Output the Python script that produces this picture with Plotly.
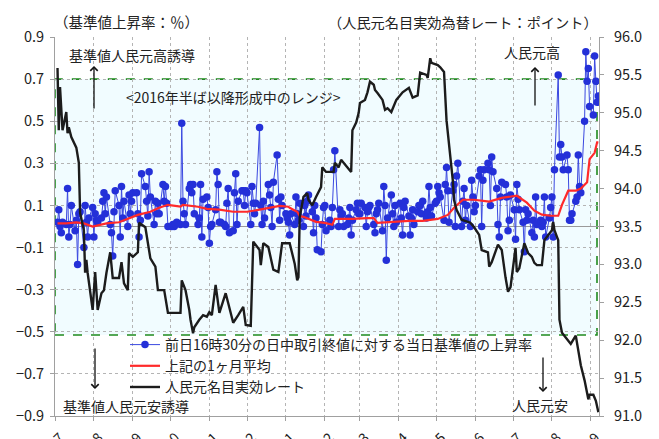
import pandas as pd
import plotly.graph_objects as go

# ---------------- data ----------------
blue_start = "2017-07-03"
blue_values = [
    # 2017-07
    0.02, 0.08, 0.00, -0.03, 0.02, 0.01, 0.18, -0.05, 0.01, 0.10, -0.02, 0.03, -0.18, 0.06, 0.07, -0.10, 0.10, 0.02, -0.05, 0.04, 0.09,
    # 2017-08
    -0.05, 0.06, 0.03, 0.02, 0.04, 0.12, 0.16, 0.06, 0.14, 0.01, -0.03, -0.14, 0.07, 0.17, 0.10, -0.05, 0.19, 0.04, 0.12, 0.00, 0.15, 0.06, 0.12,
    # 2017-09
    0.16, 0.16, 0.06, -0.05, 0.03, 0.25, 0.19, 0.12, 0.05, 0.26, 0.14, 0.01, 0.12, 0.06, 0.11, 0.06, 0.20, 0.12, 0.19, 0.11, 0.00,
    # 2017-10
    0.00, 0.01, 0.00, 0.01, 0.02, 0.01, 0.49, 0.12, 0.06, 0.01, 0.18, 0.20, 0.16, 0.20, 0.06, 0.01, 0.04, 0.20, -0.05, 0.13, 0.14, 0.09,
    # 2017-11
    -0.08, 0.00, 0.01, 0.08, 0.26, 0.20, 0.02, 0.02, 0.01, 0.00, 0.11, 0.18, -0.03, -0.02, 0.16, 0.25, 0.01, 0.12, 0.17, 0.17, 0.10, 0.17,
    # 2017-12
    0.16, 0.01, 0.19, 0.11, 0.06, 0.11, 0.47, 0.10, 0.01, 0.12, 0.04, 0.20, 0.15, 0.09, 0.00, 0.21, 0.34, 0.13, 0.03, 0.14, 0.10,
    # 2018-01
    0.06, 0.04, 0.02, -0.04, 0.06, 0.01, 0.14, 0.06, 0.03, 0.11, 0.00, 0.10, 0.05, 0.12, 0.15, 0.07, -0.03, 0.10, 0.04, -0.11, -0.12, 0.01, 0.09,
    # 2018-02
    0.10, -0.02, 0.03, 0.00, 0.09, 0.27, 0.36, 0.00, 0.08, 0.05, 0.06, 0.00, 0.01, 0.04, 0.09, -0.04, 0.03, 0.08, 0.11, 0.06,
    # 2018-03
    0.06, 0.11, 0.09, 0.00, 0.07, 0.09, 0.10, 0.01, -0.03, 0.06, 0.08, 0.11, -0.02, 0.19, 0.10, -0.16, 0.04, 0.15, 0.06, 0.00, 0.10, 0.02,
    # 2018-04
    0.11, 0.04, -0.04, 0.09, 0.12, 0.05, -0.04, 0.04, 0.08, 0.01, 0.07, 0.10, 0.10, 0.06, 0.12, 0.04, 0.07, 0.19, 0.09, 0.05, 0.11,
    # 2018-05
    0.12, 0.19, 0.16, 0.14, 0.03, 0.20, 0.28, 0.17, 0.02, 0.17, 0.20, 0.00, 0.24, 0.30, 0.00, 0.12, 0.18, 0.03, 0.10, 0.00, 0.22, 0.14, 0.07,
    # 2018-06
    0.10, 0.24, 0.27, 0.00, 0.22, 0.27, 0.30, 0.27, 0.10, 0.33, 0.26, 0.18, 0.01, -0.05, 0.14, 0.21, 0.20, 0.14, -0.02, 0.03, 0.15,
    # 2018-07
    0.08, -0.06, 0.20, 0.13, 0.08, 0.02, -0.12, 0.08, 0.03, 0.06, -0.03, 0.03, -0.05, 0.14, 0.01, 0.03, 0.00, 0.02, 0.14, -0.05, 0.04, 0.09,
    # 2018-08
    0.14, -0.05, 0.27, 0.72, 0.33, 0.39, 0.33, 0.27, 0.34, 0.27, 0.03, 0.03, 0.06, 0.12, 0.14, 0.34, 0.19, 0.16, 0.50, 0.83, 0.69, 0.75, 0.57,
    # 2018-09
    0.53, 0.81, 0.69, 0.59, 0.62,
]

red_dates = [
    "2017-07-03", "2017-07-10", "2017-07-18", "2017-07-24", "2017-07-31", "2017-08-11", "2017-08-21", "2017-08-28",
    "2017-09-05", "2017-09-15", "2017-09-22", "2017-09-29", "2017-10-09", "2017-10-11", "2017-10-23", "2017-10-30",
    "2017-11-09", "2017-11-20", "2017-12-01", "2017-12-11", "2017-12-22", "2017-12-27", "2018-01-03", "2018-01-04",
    "2018-01-10", "2018-01-12", "2018-01-15", "2018-01-25", "2018-02-01", "2018-02-07", "2018-02-09", "2018-02-23",
    "2018-03-07", "2018-03-12", "2018-03-15", "2018-03-26", "2018-04-09", "2018-04-20", "2018-05-02", "2018-05-10",
    "2018-05-15", "2018-05-22", "2018-05-31", "2018-06-12", "2018-06-22", "2018-07-04", "2018-07-12", "2018-07-18",
    "2018-07-24", "2018-07-31", "2018-08-06", "2018-08-09", "2018-08-14", "2018-08-20", "2018-08-24", "2018-08-29",
    "2018-08-31", "2018-09-04", "2018-09-06", "2018-09-07",
]
red_values = [
    0.015, 0.015, 0.020, 0.015, 0.000, 0.015, 0.020, 0.036,
    0.055, 0.070, 0.089, 0.103, 0.094, 0.103, 0.094, 0.084,
    0.080, 0.070, 0.070, 0.080, 0.094, 0.098, 0.094, 0.089,
    0.070, 0.050, 0.046, 0.022, 0.017, 0.008, 0.036, 0.036,
    0.040, 0.040, 0.017, 0.022, 0.027, 0.027, 0.036, 0.055,
    0.089, 0.127, 0.127, 0.118, 0.136, 0.146, 0.113, 0.075,
    0.056, 0.051, 0.051, 0.103, 0.170, 0.170, 0.180, 0.210,
    0.320, 0.350, 0.400, 0.400,
]

black_dates = [
    "2017-07-03", "2017-07-04", "2017-07-05", "2017-07-07", "2017-07-10", "2017-07-11", "2017-07-12", "2017-07-14",
    "2017-07-18", "2017-07-20", "2017-07-21", "2017-07-24", "2017-07-25", "2017-07-26", "2017-07-27", "2017-07-31",
    "2017-08-02", "2017-08-04", "2017-08-07", "2017-08-09", "2017-08-11", "2017-08-14", "2017-08-16", "2017-08-21",
    "2017-08-23", "2017-08-25", "2017-08-28", "2017-08-29", "2017-09-01", "2017-09-05", "2017-09-06", "2017-09-11",
    "2017-09-15", "2017-09-19", "2017-09-21", "2017-09-26", "2017-09-29", "2017-10-09", "2017-10-10", "2017-10-13",
    "2017-10-16", "2017-10-17", "2017-10-19", "2017-10-20", "2017-10-24", "2017-10-27", "2017-10-30", "2017-11-01",
    "2017-11-03", "2017-11-06", "2017-11-09", "2017-11-14", "2017-11-16", "2017-11-20", "2017-11-24", "2017-11-28",
    "2017-11-30", "2017-12-04", "2017-12-06", "2017-12-11", "2017-12-12", "2017-12-14", "2017-12-18", "2017-12-22",
    "2017-12-26", "2017-12-29", "2018-01-02", "2018-01-04", "2018-01-08", "2018-01-10", "2018-01-11", "2018-01-12",
    "2018-01-15", "2018-01-18", "2018-01-19", "2018-01-22", "2018-01-25", "2018-01-29", "2018-01-30", "2018-02-02",
    "2018-02-08", "2018-02-09", "2018-02-12", "2018-02-14", "2018-02-22", "2018-02-23", "2018-02-26", "2018-02-27",
    "2018-02-28", "2018-03-01", "2018-03-05", "2018-03-07", "2018-03-09", "2018-03-12", "2018-03-13", "2018-03-15",
    "2018-03-19", "2018-03-21", "2018-03-23", "2018-03-26", "2018-03-28", "2018-03-30", "2018-04-04", "2018-04-09",
    "2018-04-12", "2018-04-16", "2018-04-18", "2018-04-23", "2018-04-24", "2018-04-26", "2018-04-27", "2018-05-02",
    "2018-05-04", "2018-05-07", "2018-05-09", "2018-05-14", "2018-05-15", "2018-05-17", "2018-05-21", "2018-05-28",
    "2018-05-31", "2018-06-04", "2018-06-06", "2018-06-11", "2018-06-12", "2018-06-14", "2018-06-19", "2018-06-22",
    "2018-06-25", "2018-06-27", "2018-06-29", "2018-07-03", "2018-07-04", "2018-07-06", "2018-07-10", "2018-07-13",
    "2018-07-16", "2018-07-18", "2018-07-20", "2018-07-24", "2018-07-26", "2018-07-30", "2018-08-01", "2018-08-02",
    "2018-08-03", "2018-08-06", "2018-08-07", "2018-08-09", "2018-08-13", "2018-08-16", "2018-08-20", "2018-08-24",
    "2018-08-27", "2018-08-30", "2018-08-31", "2018-09-03", "2018-09-05", "2018-09-07",
]
black_values = [
    95.59, 94.77, 95.34, 94.77, 95.01, 94.73, 94.81, 94.68,
    94.54, 94.34, 93.68, 93.45, 92.89, 93.06, 92.89, 92.40,
    92.90, 92.40, 92.62, 92.66, 92.89, 93.16, 92.82, 92.82,
    93.03, 92.75, 92.66, 93.15, 93.10, 93.16, 93.55, 93.49,
    93.08, 92.97, 92.66, 92.66, 92.36, 92.36, 92.79, 92.66,
    92.40, 92.27, 92.09, 92.17, 92.27, 92.33, 92.31, 92.37,
    92.33, 92.73, 92.36, 92.62, 92.49, 92.23, 92.33, 92.44,
    92.20, 92.19, 93.30, 93.19, 92.99, 93.28, 93.23, 92.93,
    92.90, 93.28, 93.28, 93.28, 93.01, 92.79, 92.83, 93.62,
    93.89, 93.94, 93.85, 93.78, 93.89, 94.02, 94.28, 94.22,
    94.22, 94.34, 94.28, 94.38, 94.22, 94.77, 94.87, 94.94,
    95.00, 95.13, 95.17, 95.27, 95.41, 95.37, 95.30, 95.26,
    95.17, 95.04, 95.06, 95.01, 95.08, 95.17, 95.27, 95.33,
    95.20, 95.23, 95.53, 95.50, 95.46, 95.72, 95.66, 95.63,
    95.60, 95.54, 94.90, 94.11, 93.85, 93.72, 93.59, 93.55,
    93.49, 93.39, 93.19, 93.16, 92.97, 93.03, 93.26, 93.19,
    92.83, 92.64, 92.70, 93.22, 92.90, 92.95, 93.28, 93.15,
    93.10, 93.02, 92.99, 92.99, 93.32, 93.41, 93.45, 93.56,
    93.45, 93.32, 92.27, 92.10, 92.02, 91.95, 92.06, 91.67,
    91.47, 91.22, 91.28, 91.28, 91.20, 91.05,
]

month_ticks = ["2017-07-01", "2017-08-01", "2017-09-01", "2017-10-01", "2017-11-01", "2017-12-01", "2018-01-01",
               "2018-02-01", "2018-03-01", "2018-04-01", "2018-05-01", "2018-06-01", "2018-07-01", "2018-08-01",
               "2018-09-01"]
month_labels = ["17-7", "17-8", "17-9", "17-10", "17-11", "17-12", "18-1", "18-2", "18-3", "18-4", "18-5",
                "18-6", "18-7", "18-8", "18-9"]

left_ticks = [-0.9, -0.7, -0.5, -0.3, -0.1, 0.1, 0.3, 0.5, 0.7, 0.9]
right_ticks = [91.0, 91.5, 92.0, 92.5, 93.0, 93.5, 94.0, 94.5, 95.0, 95.5, 96.0]

name_blue = "前日16時30分の日中取引終値に対する当日基準値の上昇率"
name_red = "上記の1ヶ月平均"
name_black = "人民元名目実効レート"

# ---------------- figure ----------------
FONT = "Noto Sans CJK JP, Noto Sans, sans-serif"
blue_dates = pd.bdate_range(blue_start, periods=len(blue_values))

fig = go.Figure()
fig.add_trace(go.Scatter(
    x=blue_dates, y=blue_values, name=name_blue, mode="lines+markers",
    line=dict(color="#3a48e0", width=1),
    marker=dict(color="#2430d8", size=7.5),
))
fig.add_trace(go.Scatter(
    x=pd.to_datetime(red_dates), y=red_values, name=name_red, mode="lines",
    line=dict(color="#ff2a2a", width=2.2),
))
fig.add_trace(go.Scatter(
    x=pd.to_datetime(black_dates), y=black_values, name=name_black, mode="lines",
    line=dict(color="#1c1c1c", width=2.4), yaxis="y2",
))

# page (window) coordinates of the plot area; the page body has an 8px margin
OFF = 8
PL, PR, PT, PB = 55, 599, 37, 416
W, H = 659 - OFF, 439 - OFF
L, T = PL - OFF, PT - OFF
R, B = W - (PR - OFF), H - (PB - OFF)
pw, ph = PR - PL, PB - PT


def px(x):
    return (x - PL) / pw


def py(y):
    return (PB - y) / ph


grid = dict(showgrid=True, gridcolor="#b4b4b4", griddash="dot", gridwidth=1)

fig.update_layout(
    width=W, height=H,
    margin=dict(l=L, r=R, t=T, b=B, pad=0),
    paper_bgcolor="white", plot_bgcolor="white",
    font=dict(family=FONT, size=14, color="#222222"),
    showlegend=True,
    legend=dict(x=px(125), y=py(329), xanchor="left", yanchor="top",
                bgcolor="rgba(0,0,0,0)", font=dict(size=14), tracegroupgap=0,
                itemwidth=30),
    xaxis=dict(
        type="date", range=["2017-07-01", "2018-09-07 12:00"],
        tickvals=pd.to_datetime(month_ticks), ticktext=month_labels, tickangle=-45,
        showline=True, linecolor="#a0a0a0", ticks="outside", ticklen=4, tickcolor="#a0a0a0",
        zeroline=False, automargin=False, tickfont=dict(size=14), ticklabelshift=5,
        ticklabelstandoff=3,
        **grid,
    ),
    yaxis=dict(
        range=[-0.9, 0.9], tickvals=left_ticks, tickformat=".1f",
        showline=True, linecolor="#a0a0a0", ticks="outside", ticklen=4, tickcolor="#a0a0a0",
        zeroline=True, zerolinecolor="#9a9a9a", zerolinewidth=1, automargin=False,
        tickfont=dict(size=14.5), ticklabelstandoff=3,
        **grid,
    ),
    yaxis2=dict(
        range=[91.0, 96.0], tickvals=right_ticks, tickformat=".1f", overlaying="y", side="right",
        showline=True, linecolor="#a0a0a0", ticks="outside", ticklen=4, tickcolor="#a0a0a0",
        showgrid=False, zeroline=False, automargin=False, tickfont=dict(size=14.5),
        ticklabelstandoff=7,
    ),
)

# range box
fig.add_shape(type="rect", xref="paper", yref="y", x0=0, x1=px(597), y0=-0.515, y1=0.7,
              fillcolor="#f1fcff", line=dict(color="#1f8a1f", width=1.6, dash="dash"), layer="below")

ann = []
ann.append(dict(text="（基準値上昇率：％）", x=px(52), y=py(22), xanchor="left", yanchor="middle",
                showarrow=False, font=dict(size=14.5)))
ann.append(dict(text="（人民元名目実効為替レート：ポイント）", x=px(600), y=py(22), xanchor="right",
                yanchor="middle", showarrow=False, font=dict(size=14.2)))
ann.append(dict(text="基準値人民元高誘導", x=px(67), y=py(55), xanchor="left", yanchor="middle",
                showarrow=False, font=dict(size=14)))
ann.append(dict(text="&lt;2016年半ば以降形成中のレンジ&gt;", x=px(124), y=py(97), xanchor="left",
                yanchor="middle", showarrow=False, font=dict(size=14)))
ann.append(dict(text="人民元高", x=px(532), y=py(52), xanchor="center", yanchor="middle",
                showarrow=False, font=dict(size=14)))
ann.append(dict(text="基準値人民元安誘導", x=px(61), y=py(406), xanchor="left", yanchor="middle",
                showarrow=False, font=dict(size=14)))
ann.append(dict(text="人民元安", x=px(540), y=py(405), xanchor="center", yanchor="middle",
                showarrow=False, font=dict(size=14)))

arrows = [((94, 66), (94, 110)), ((535, 67), (535, 107)), ((95, 389), (95, 347)), ((543, 392), (543, 356))]
for (hx, hy), (tx, ty) in arrows:
    ann.append(dict(x=px(hx), y=py(hy), text="", showarrow=True,
                    ax=tx - hx, ay=ty - hy, axref="pixel", ayref="pixel",
                    arrowhead=4, arrowsize=1.1, arrowwidth=1.3, arrowcolor="#111111"))
for a in ann:
    a.setdefault("xref", "paper")
    a.setdefault("yref", "paper")
fig.update_layout(annotations=ann)

fig.write_html("out.html")
